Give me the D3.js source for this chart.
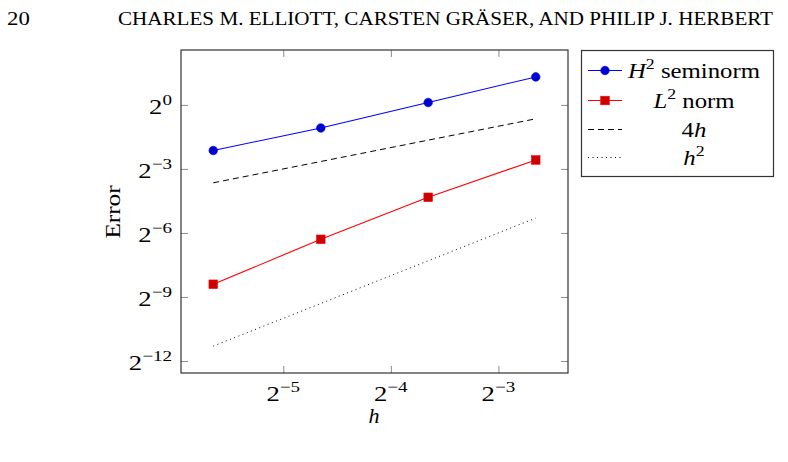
<!DOCTYPE html>
<html>
<head>
<meta charset="utf-8">
<script src="https://cdn.jsdelivr.net/npm/d3@7"></script>
<style>
  html, body { margin: 0; padding: 0; background: #fff; }
  svg { display: block; font-family: 'Liberation Serif', 'DejaVu Serif', serif; }
</style>
</head>
<body>
<div id="chart"></div>
<script>
// mesh sizes and errors
const hValues = [0.0199, 0.0398, 0.0795, 0.159];
const h2Semi = [0.227, 0.473, 1.079, 2.48];
const l2Norm = [0.00295, 0.0127, 0.0497, 0.167];
const fourH = [0.0796, 0.159, 0.318, 0.636];
const hSquared = [0.000396, 0.00158, 0.00632, 0.0253];

// tick exponents (base 2)
const xTickExps = [-5, -4, -3];
const yTickExps = [0, -3, -6, -9, -12];

const legendItems = ['H2', 'L2', '4h', 'h2'];

const width = 788, height = 462;
const plot = { left: 181, right: 568, top: 50, bottom: 373 };
const WIDEN = 1.27; // computer modern runs wider than Times

const svg = d3.select('#chart').append('svg')
  .attr('width', width)
  .attr('height', height);

// stretch a text element so its width is closer to the LaTeX original
function widen(sel, f) {
  const w = sel.node().getComputedTextLength();
  sel.attr('textLength', w * (f || WIDEN)).attr('lengthAdjust', 'spacingAndGlyphs');
}

// page header
svg.append('text')
  .attr('x', 7).attr('y', 25)
  .attr('font-size', 19)
  .text('20')
  .call(widen, 1.2);
svg.append('text')
  .attr('x', 118).attr('y', 25)
  .attr('font-size', 19)
  .attr('textLength', 655)
  .attr('lengthAdjust', 'spacingAndGlyphs')
  .text('CHARLES M. ELLIOTT, CARSTEN GRÄSER, AND PHILIP J. HERBERT');

// pgfplots-like enlarged limits (10% in log space)
function logExtent(arr) {
  const l = d3.extent(arr.map(Math.log2));
  const pad = (l[1] - l[0]) * 0.1;
  return [Math.pow(2, l[0] - pad), Math.pow(2, l[1] + pad)];
}

const x = d3.scaleLog().base(2)
  .domain(logExtent(hValues))
  .range([plot.left, plot.right]);

const y = d3.scaleLog().base(2)
  .domain(logExtent([...h2Semi, ...l2Norm, ...fourH, ...hSquared]))
  .range([plot.bottom, plot.top]);

const xTicks = xTickExps.map(e => Math.pow(2, e));
const yTicks = yTickExps.map(e => Math.pow(2, e));

// ticks on all four sides, pointing inward
function styleAxis(g) {
  g.select('.domain').remove();
  g.selectAll('.tick line').attr('stroke', '#8a8a8a').attr('stroke-width', 1);
  g.selectAll('.tick text').remove();
}
svg.append('g').attr('transform', `translate(0,${plot.bottom})`)
  .call(d3.axisTop(x).tickValues(xTicks).tickSize(7)).call(styleAxis);
svg.append('g').attr('transform', `translate(0,${plot.top})`)
  .call(d3.axisBottom(x).tickValues(xTicks).tickSize(7)).call(styleAxis);
svg.append('g').attr('transform', `translate(${plot.left},0)`)
  .call(d3.axisRight(y).tickValues(yTicks).tickSize(7)).call(styleAxis);
svg.append('g').attr('transform', `translate(${plot.right},0)`)
  .call(d3.axisLeft(y).tickValues(yTicks).tickSize(7)).call(styleAxis);

// frame
svg.append('rect')
  .attr('x', plot.left).attr('y', plot.top)
  .attr('width', plot.right - plot.left)
  .attr('height', plot.bottom - plot.top)
  .attr('fill', 'none')
  .attr('stroke', '#333')
  .attr('stroke-width', 1.2);

function powerLabel(sel, exp) {
  sel.append('tspan').text('2');
  sel.append('tspan')
    .attr('font-size', 15)
    .attr('dy', -9)
    .text(exp === 0 ? '0' : '\u2212' + Math.abs(exp));
}

// tick labels
xTickExps.forEach(e => {
  const t = svg.append('text')
    .attr('x', x(Math.pow(2, e)))
    .attr('y', 401)
    .attr('font-size', 21)
    .attr('text-anchor', 'middle');
  powerLabel(t, e);
  widen(t);
});
yTickExps.forEach(e => {
  const t = svg.append('text')
    .attr('x', 172)
    .attr('y', y(Math.pow(2, e)) + 9)
    .attr('font-size', 21)
    .attr('text-anchor', 'end');
  powerLabel(t, e);
  widen(t);
});

// axis titles
svg.append('text')
  .attr('x', 374).attr('y', 423)
  .attr('font-size', 22)
  .attr('font-style', 'italic')
  .attr('text-anchor', 'middle')
  .text('h');
svg.append('text')
  .attr('transform', 'translate(120,212) rotate(-90)')
  .attr('font-size', 21)
  .attr('text-anchor', 'middle')
  .text('Error')
  .call(widen, 1.2);

// lines
const line = vals => d3.line()
  .x((d, i) => x(hValues[i]))
  .y(d => y(d))(vals);

svg.append('path').attr('d', line(fourH))
  .attr('fill', 'none').attr('stroke', '#000').attr('stroke-width', 1)
  .attr('stroke-dasharray', '6,4');
svg.append('path').attr('d', line(hSquared))
  .attr('fill', 'none').attr('stroke', '#000').attr('stroke-width', 1)
  .attr('stroke-dasharray', '1,3.5');
svg.append('path').attr('d', line(h2Semi))
  .attr('fill', 'none').attr('stroke', '#0000ff').attr('stroke-width', 1.1);
svg.append('path').attr('d', line(l2Norm))
  .attr('fill', 'none').attr('stroke', '#ff0000').attr('stroke-width', 1.1);

// markers
svg.append('g').selectAll('circle')
  .data(h2Semi)
  .join('circle')
  .attr('cx', (d, i) => x(hValues[i]))
  .attr('cy', d => y(d))
  .attr('r', 4.3)
  .attr('fill', '#0000cc')
  .attr('stroke', '#0000ff')
  .attr('stroke-width', 0.6);
svg.append('g').selectAll('rect')
  .data(l2Norm)
  .join('rect')
  .attr('x', (d, i) => x(hValues[i]) - 4.3)
  .attr('y', d => y(d) - 4.3)
  .attr('width', 8.6)
  .attr('height', 8.6)
  .attr('fill', '#cc0000')
  .attr('stroke', '#ff0000')
  .attr('stroke-width', 0.6);

// legend
const legend = svg.append('g');
legend.append('rect')
  .attr('x', 581.5).attr('y', 50.5)
  .attr('width', 192).attr('height', 126)
  .attr('fill', '#fff').attr('stroke', '#333').attr('stroke-width', 1.2);

const rowY = [70.5, 100.5, 129.5, 157.5];
legendItems.forEach((key, i) => {
  const cy = rowY[i];
  const ln = legend.append('line')
    .attr('x1', 588).attr('x2', 622)
    .attr('y1', cy).attr('y2', cy)
    .attr('stroke-width', 1);
  const t = legend.append('text')
    .attr('x', 694).attr('y', cy + 7)
    .attr('font-size', 21)
    .attr('text-anchor', 'middle');
  if (key === 'H2') {
    ln.attr('stroke', '#0000ff');
    legend.append('circle').attr('cx', 605).attr('cy', cy).attr('r', 4.3)
      .attr('fill', '#0000cc').attr('stroke', '#0000ff').attr('stroke-width', 0.6);
    t.append('tspan').attr('font-style', 'italic').text('H');
    t.append('tspan').attr('font-size', 15).attr('dy', -9).text('2');
    t.append('tspan').attr('dy', 9).text(' seminorm');
  } else if (key === 'L2') {
    ln.attr('stroke', '#ff0000');
    legend.append('rect').attr('x', 605 - 4.3).attr('y', cy - 4.3)
      .attr('width', 8.6).attr('height', 8.6)
      .attr('fill', '#cc0000').attr('stroke', '#ff0000').attr('stroke-width', 0.6);
    t.append('tspan').attr('font-style', 'italic').text('L');
    t.append('tspan').attr('font-size', 15).attr('dy', -9).text('2');
    t.append('tspan').attr('dy', 9).text(' norm');
  } else if (key === '4h') {
    ln.attr('stroke', '#000').attr('stroke-dasharray', '6,4');
    t.append('tspan').text('4');
    t.append('tspan').attr('font-style', 'italic').text('h');
  } else {
    ln.attr('stroke', '#000').attr('stroke-dasharray', '1,3.5');
    t.append('tspan').attr('font-style', 'italic').text('h');
    t.append('tspan').attr('font-size', 15).attr('dy', -9).text('2');
  }
  widen(t, 1.18);
});
</script>
</body>
</html>
